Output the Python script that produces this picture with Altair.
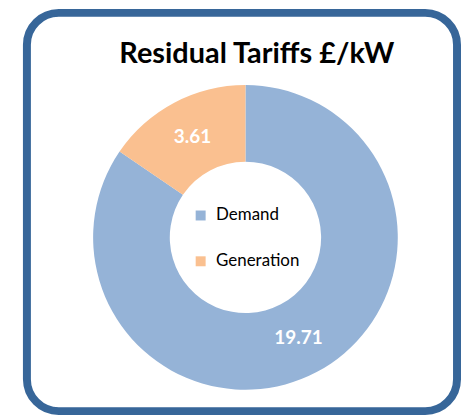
import altair as alt
import pandas as pd

categories = ["Demand", "Generation"]
values = [19.71, 3.61]
labels = ["19.71", "3.61"]
colors = ["#95B3D7", "#FAC090"]
title_text = ["Residual Tariffs £/kW"]

df = pd.DataFrame({"category": categories, "value": values, "label": labels, "order": [0, 1]})

W, H = 455, 412
CX, CY = 238.5, 229.5

border = alt.Chart(pd.DataFrame({"a": [0]})).mark_rect(
    cornerRadius=32, fill="white", stroke="#376699", strokeWidth=8
).encode(x=alt.value(19), x2=alt.value(451), y=alt.value(4), y2=alt.value(404))

base = alt.Chart(df).encode(
    theta=alt.Theta("value:Q", stack=True),
    order=alt.Order("order:Q"),
)

arc = base.mark_arc(innerRadius=76, outerRadius=153).encode(
    color=alt.Color(
        "category:N",
        scale=alt.Scale(domain=categories, range=colors),
        legend=alt.Legend(
            orient="none", legendX=185, legendY=199, title=None,
            symbolType="square", symbolSize=100, symbolStrokeWidth=0,
            labelFontSize=17, labelFont="Lato", labelColor="#000000",
            rowPadding=28, padding=0, labelOffset=7,
        ),
    ),
    x=alt.value(CX),
    y=alt.value(CY),
)

text = base.mark_text(
    radius=114, font="Lato", fontWeight="bold", fontSize=19, color="white"
).encode(text="label:N", x=alt.value(CX), y=alt.value(CY))

title = alt.Chart(pd.DataFrame({"t": title_text})).mark_text(
    font="Lato", fontWeight="bold", fontSize=29, color="#000000", baseline="alphabetic"
).encode(text="t:N", x=alt.value(250), y=alt.value(54))

chart = alt.layer(border, arc, text, title).properties(
    width=W, height=H, padding=0, autosize=alt.AutoSizeParams(type="none"), background="white"
).configure_view(stroke=None)

chart.save("out.html", embed_options={"renderer": "svg", "actions": False})
